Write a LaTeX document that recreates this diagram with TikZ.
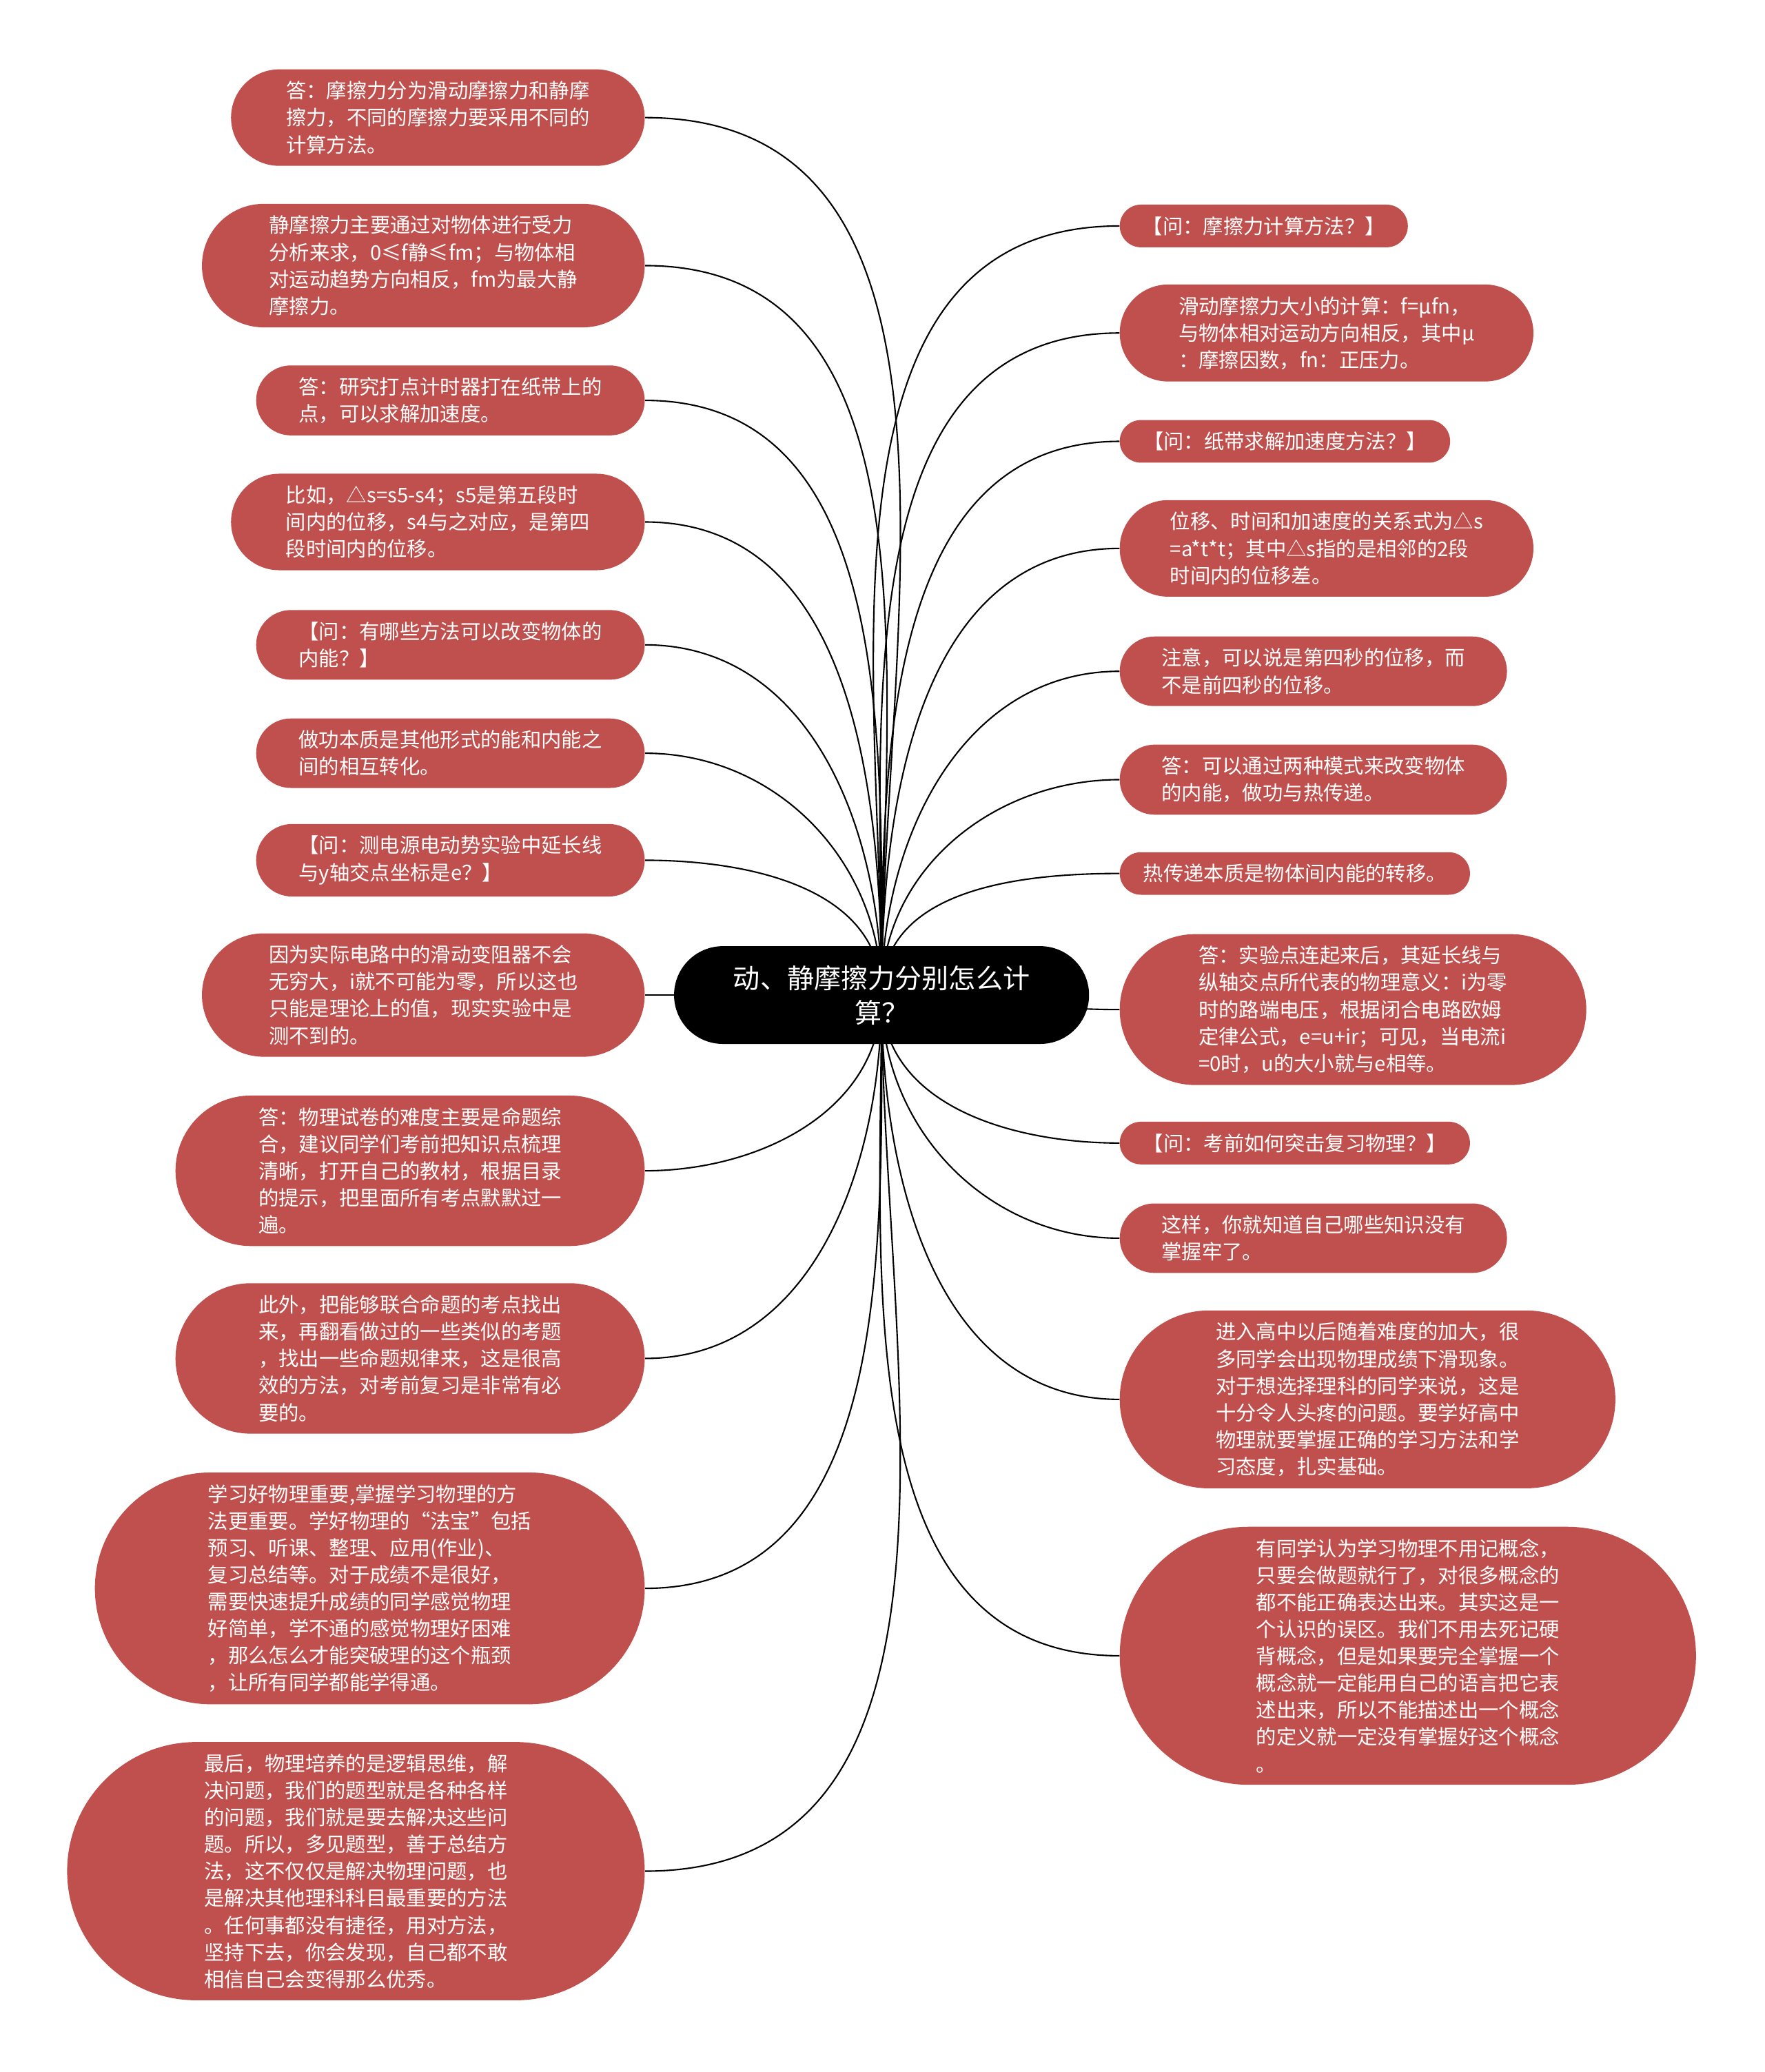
\documentclass[tikz,border=0pt]{standalone}
\usepackage{fontspec}
\setmainfont{Noto Sans CJK SC}
\usepackage{tikz}
\usetikzlibrary{shapes.misc,backgrounds}
\definecolor{leafred}{RGB}{192,80,77}
\tikzset{
    leaf/.style={
        rounded rectangle,
        fill=leafred,
        text=white,
        inner xsep=4pt,
        inner ysep=9pt,
        align=left,
        minimum width=#1,
        font=\fontsize{15.3}{20.4}\selectfont
    },
    % 中心主题
    rootnode/.style={
        rounded rectangle,
        fill=black,
        text=white,
        minimum height=74pt,
        minimum width=322pt,
        inner xsep=4pt,
        align=center,
        font=\fontsize{20.4}{26}\selectfont
    },
    branch/.style={
        line width=1.1pt,
        black
    }
}
\begin{document}
\begin{tikzpicture}[x=1pt, y=-1pt]
        \useasboundingbox (0,0) rectangle (1335,1568);

        \node[rootnode] (root) at (667,753) {动、静摩擦力分别怎么计\\算？};

        \node[leaf=321pt, anchor=east] (l1) at (488,89) {答：摩擦力分为滑动摩擦力和静摩\\擦力，不同的摩擦力要采用不同的\\计算方法。};
        \node[leaf=343pt, anchor=east] (l2) at (488,201) {静摩擦力主要通过对物体进行受力\\分析来求，0≤f静≤fm；与物体相\\对运动趋势方向相反，fm为最大静\\摩擦力。};
        \node[leaf=302pt, anchor=east] (l3) at (488,303) {答：研究打点计时器打在纸带上的\\点，可以求解加速度。};
        \node[leaf=321pt, anchor=east] (l4) at (488,395) {比如，△s=s5-s4；s5是第五段时\\间内的位移，s4与之对应，是第四\\段时间内的位移。};
        \node[leaf=302pt, anchor=east] (l5) at (488,488) {【问：有哪些方法可以改变物体的\\内能？】};
        \node[leaf=302pt, anchor=east] (l6) at (488,570) {做功本质是其他形式的能和内能之\\间的相互转化。};
        \node[leaf=302pt, anchor=east] (l7) at (488,651) {【问：测电源电动势实验中延长线\\与y轴交点坐标是e？】};
        \node[leaf=343pt, anchor=east] (l8) at (488,753) {因为实际电路中的滑动变阻器不会\\无穷大，i就不可能为零，所以这也\\只能是理论上的值，现实实验中是\\测不到的。};
        \node[leaf=363pt, anchor=east] (l9) at (488,886) {答：物理试卷的难度主要是命题综\\合，建议同学们考前把知识点梳理\\清晰，打开自己的教材，根据目录\\的提示，把里面所有考点默默过一\\遍。};
        \node[leaf=363pt, anchor=east] (l10) at (488,1028) {此外，把能够联合命题的考点找出\\来，再翻看做过的一些类似的考题\\，找出一些命题规律来，这是很高\\效的方法，对考前复习是非常有必\\要的。};
        \node[leaf=424pt, anchor=east] (l11) at (488,1202) {学习好物理重要,掌握学习物理的方\\法更重要。学好物理的“法宝”包括\\预习、听课、整理、应用(作业)、\\复习总结等。对于成绩不是很好，\\需要快速提升成绩的同学感觉物理\\好简单，学不通的感觉物理好困难\\，那么怎么才能突破理的这个瓶颈\\，让所有同学都能学得通。};
        \node[leaf=445pt, anchor=east] (l12) at (488,1416) {最后，物理培养的是逻辑思维，解\\决问题，我们的题型就是各种各样\\的问题，我们就是要去解决这些问\\题。所以，多见题型，善于总结方\\法，这不仅仅是解决物理问题，也\\是解决其他理科科目最重要的方法\\。任何事都没有捷径，用对方法，\\坚持下去，你会发现，自己都不敢\\相信自己会变得那么优秀。};

        \node[leaf=226pt, anchor=west] (r1) at (847,171) {【问：摩擦力计算方法？】};
        \node[leaf=321pt, anchor=west] (r2) at (847,252) {滑动摩擦力大小的计算：f=μfn，\\与物体相对运动方向相反，其中μ\\：摩擦因数，fn：正压力。};
        \node[leaf=258pt, anchor=west] (r3) at (847,334) {【问：纸带求解加速度方法？】};
        \node[leaf=321pt, anchor=west] (r4) at (847,415) {位移、时间和加速度的关系式为△s\\=a*t*t；其中△s指的是相邻的2段\\时间内的位移差。};
        \node[leaf=301pt, anchor=west] (r5) at (847,508) {注意，可以说是第四秒的位移，而\\不是前四秒的位移。};
        \node[leaf=301pt, anchor=west] (r6) at (847,590) {答：可以通过两种模式来改变物体\\的内能，做功与热传递。};
        \node[leaf=273pt, anchor=west] (r7) at (847,661) {热传递本质是物体间内能的转移。};
        \node[leaf=361pt, anchor=west] (r8) at (847,764) {答：实验点连起来后，其延长线与\\纵轴交点所代表的物理意义：i为零\\时的路端电压，根据闭合电路欧姆\\定律公式，e=u+ir；可见，当电流i\\=0时，u的大小就与e相等。};
        \node[leaf=273pt, anchor=west] (r9) at (847,865) {【问：考前如何突击复习物理？】};
        \node[leaf=301pt, anchor=west] (r10) at (847,937) {这样，你就知道自己哪些知识没有\\掌握牢了。};
        \node[leaf=383pt, anchor=west] (r11) at (847,1059) {进入高中以后随着难度的加大，很\\多同学会出现物理成绩下滑现象。\\对于想选择理科的同学来说，这是\\十分令人头疼的问题。要学好高中\\物理就要掌握正确的学习方法和学\\习态度，扎实基础。};
        \node[leaf=444pt, anchor=west] (r12) at (847,1253) {有同学认为学习物理不用记概念，\\只要会做题就行了，对很多概念的\\都不能正确表达出来。其实这是一\\个认识的误区。我们不用去死记硬\\背概念，但是如果要完全掌握一个\\概念就一定能用自己的语言把它表\\述出来，所以不能描述出一个概念\\的定义就一定没有掌握好这个概念\\。};

        \begin{scope}[on background layer]
        \draw[branch] (root.center) to[out=90, in=0] (l1.east);
        \draw[branch] (root.center) to[out=90, in=0] (l2.east);
        \draw[branch] (root.center) to[out=90, in=0] (l3.east);
        \draw[branch] (root.center) to[out=90, in=0] (l4.east);
        \draw[branch] (root.center) to[out=90, in=0] (l5.east);
        \draw[branch] (root.center) to[out=90, in=0] (l6.east);
        \draw[branch] (root.center) to[out=90, in=0] (l7.east);
        \draw[branch] (root.center) -- (l8.east);
        \draw[branch] (root.center) to[out=-90, in=0] (l9.east);
        \draw[branch] (root.center) to[out=-90, in=0] (l10.east);
        \draw[branch] (root.center) to[out=-90, in=0] (l11.east);
        \draw[branch] (root.center) to[out=-90, in=0] (l12.east);

        \draw[branch] (root.center) to[out=90, in=180] (r1.west);
        \draw[branch] (root.center) to[out=90, in=180] (r2.west);
        \draw[branch] (root.center) to[out=90, in=180] (r3.west);
        \draw[branch] (root.center) to[out=90, in=180] (r4.west);
        \draw[branch] (root.center) to[out=90, in=180] (r5.west);
        \draw[branch] (root.center) to[out=90, in=180] (r6.west);
        \draw[branch] (root.center) to[out=90, in=180] (r7.west);
        \draw[branch] (root.center) to[out=0, in=180] (r8.west);
        \draw[branch] (root.center) to[out=-90, in=180] (r9.west);
        \draw[branch] (root.center) to[out=-90, in=180] (r10.west);
        \draw[branch] (root.center) to[out=-90, in=180] (r11.west);
        \draw[branch] (root.center) to[out=-90, in=180] (r12.west);
        \end{scope}
\end{tikzpicture}
\end{document}
